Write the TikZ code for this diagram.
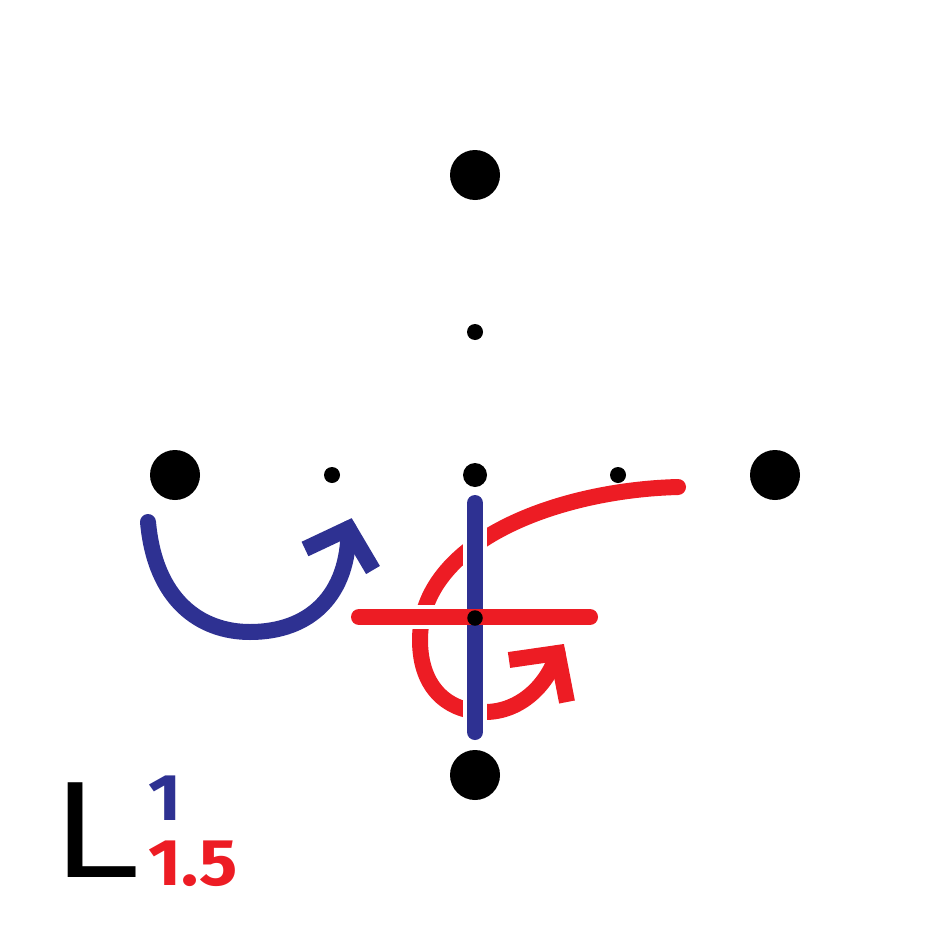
\documentclass[tikz,border=0pt]{standalone}
\usepackage{fontspec}
\setmainfont{Fira Sans}
\newfontfamily\lfont{DejaVu Sans}
\definecolor{myblue}{HTML}{2E3192}
\definecolor{myred}{HTML}{ED1C24}
\begin{document}
\begin{tikzpicture}[x=1pt,y=-1pt,
  bigdot/.style={fill=black,circle,inner sep=0pt,minimum size=50pt},
  smalldot/.style={fill=black,circle,inner sep=0pt,minimum size=16pt},
  stroke/.style={line width=16pt,line cap=round},
  chev/.style={line width=16pt,line cap=butt,line join=miter},
  gap/.style={line width=24pt,white,line cap=round},
  numlabel/.style={anchor=base west,inner sep=0pt,font=\fontsize{66}{66}\selectfont\bfseries}]
\useasboundingbox (0,0) rectangle (950,950);
% dots
\node[bigdot] (N) at (475,175) {};
\node[bigdot] (W) at (175,475) {};
\node[bigdot] (E) at (775,475) {};
\node[bigdot] (S) at (475,775) {};
\node[smalldot] (n1) at (475,332) {};
\node[smalldot] (w1) at (332,475) {};
\node[smalldot] (e1) at (618,475) {};
\node[smalldot,minimum size=24pt] (c0) at (475,475) {};
% coordinates
\coordinate (bs) at (148,522);
\coordinate (bv) at (348.5,528.5);
\coordinate (bl) at (305,549);
\coordinate (br) at (373,570);
\coordinate (rs) at (678,487);
\coordinate (rv) at (557.5,653);
\coordinate (rl) at (509,660);
\coordinate (rr) at (567,702);
\coordinate (vt) at (475,503);
\coordinate (vb) at (475,732);
\coordinate (hl) at (359,617);
\coordinate (hr) at (590,617);
% blue arrow
\draw[stroke,myblue] (bs) .. controls (155,600) and (200,632) .. (250,632)
   .. controls (310,632) and (349,595) .. (bv);
\draw[chev,myblue] (bl) -- (bv) -- (br);
% red spiral arrow
\draw[stroke,myred] (rs) .. controls (560,490) and (420,540) .. (420,640)
   .. controls (420,690) and (450,712) .. (485,712)
   .. controls (520,712) and (548,685) .. (rv);
\draw[chev,myred] (rl) -- (rv) -- (rr);
% crossing lines with white gaps
\draw[gap] (vt) -- (vb);
\draw[gap] (hl) -- (hr);
\draw[stroke,myblue] (vt) -- (vb);
\draw[stroke,myred] (hl) -- (hr);
\node[fill=black,circle,inner sep=0pt,minimum size=15.5pt] (c) at (475,618) {};
% label
\node[anchor=base west,inner sep=0pt,font=\lfont\fontsize{130}{130}\selectfont] (L) at (53,877) {\scalebox{1.15}[1]{L}};
\node[numlabel,text=myblue] (one) at (148,820) {\scalebox{1.08}[1]{1}};
\node[numlabel,text=myred] (onefive) at (148,885) {\scalebox{1.08}[1]{1.5}};
\end{tikzpicture}
\end{document}
